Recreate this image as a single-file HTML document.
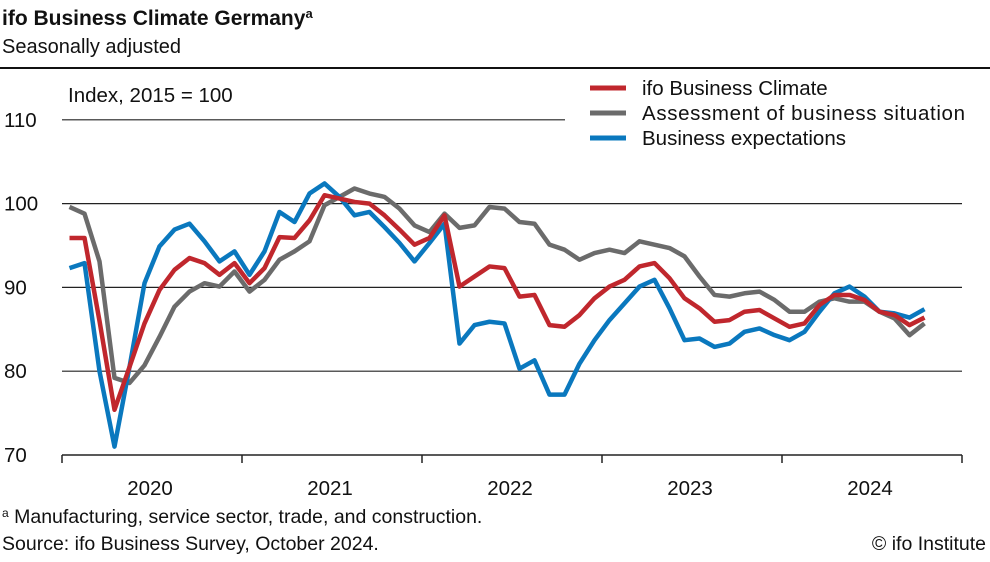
<!DOCTYPE html>
<html><head><meta charset="utf-8"><style>
body{margin:0;background:#fff;font-family:"Liberation Sans",sans-serif;}
svg text{font-family:"Liberation Sans",sans-serif;fill:#111;}
</style></head><body>
<svg id="c" width="990" height="557" viewBox="0 0 990 557">
<text x="2" y="25" font-size="21" font-weight="bold">ifo Business Climate Germany<tspan font-size="13" dy="-7">a</tspan></text>
<text x="2" y="53" font-size="20">Seasonally adjusted</text>
<line x1="0" y1="68" x2="990" y2="68" stroke="#111" stroke-width="2"/>
<text x="68" y="102" font-size="20.5">Index, 2015 = 100</text>
<g id="grid"></g><g id="axis"></g><g id="series"></g>
<g>
<line x1="590" y1="88" x2="626" y2="88" stroke="#c0272d" stroke-width="5"/>
<text x="642" y="95" font-size="20.5">ifo Business Climate</text>
<line x1="590" y1="113" x2="626" y2="113" stroke="#6b6b6b" stroke-width="5"/>
<text x="642" y="120" font-size="20.5" textLength="323">Assessment of business situation</text>
<line x1="590" y1="138" x2="626" y2="138" stroke="#0a78be" stroke-width="5"/>
<text x="642" y="145" font-size="20.5">Business expectations</text>
</g>
<text x="2" y="523" font-size="19.5"><tspan font-size="12" dy="-6">a</tspan><tspan dy="6"> Manufacturing, service sector, trade, and construction.</tspan></text>
<text x="2" y="550" font-size="19.5">Source: ifo Business Survey, October 2024.</text>
<text x="986" y="550" font-size="19.5" text-anchor="end">© ifo Institute</text>
</svg>
<script>
const years=["2020","2021","2022","2023","2024"];
const yTicks=[70,80,90,100,110];
const climate=[95.9,95.9,86,75.4,80.5,85.7,89.7,92.1,93.5,92.9,91.5,92.9,
90.5,92.3,96.0,95.9,98.0,101.0,100.6,100.2,100.0,98.6,96.9,95.1,
95.9,98.6,90.1,91.3,92.5,92.3,88.9,89.1,85.5,85.3,86.7,88.7,
90.1,90.9,92.5,92.9,91.1,88.7,87.5,85.9,86.1,87.1,87.3,86.3,
85.3,85.7,87.9,89.1,89.1,88.5,87.1,86.7,85.5,86.4];
const situation=[99.6,98.8,93.1,79.2,78.6,80.7,84.1,87.7,89.5,90.5,90.1,91.9,
89.5,90.9,93.3,94.3,95.5,99.8,100.8,101.8,101.2,100.8,99.4,97.4,
96.6,98.8,97.1,97.4,99.6,99.4,97.8,97.6,95.1,94.5,93.3,94.1,
94.5,94.1,95.5,95.1,94.7,93.7,91.3,89.1,88.9,89.3,89.5,88.5,
87.1,87.1,88.3,88.7,88.3,88.3,87.1,86.3,84.3,85.7];
const expectations=[92.3,92.9,80,71.0,80.5,90.5,94.9,96.9,97.6,95.5,93.1,94.3,
91.5,94.3,99.0,97.8,101.2,102.4,100.8,98.6,99.0,97.2,95.3,93.1,
95.3,97.6,83.3,85.5,85.9,85.7,80.3,81.3,77.2,77.2,80.9,83.7,
86.1,88.1,90.1,90.9,87.5,83.7,83.9,82.9,83.3,84.7,85.1,84.3,
83.7,84.7,87.1,89.3,90.1,88.9,87.1,86.9,86.4,87.4];
const NS="http://www.w3.org/2000/svg";
const X0=62,X1=962,MW=15;
function x(i){return X0+(i+0.5)*MW;}
function y(v){return 455-(v-70)*8.38;}
function mk(t,a,p){const e=document.createElementNS(NS,t);for(const k in a)e.setAttribute(k,a[k]);p.appendChild(e);return e;}
const grid=document.getElementById('grid'),axis=document.getElementById('axis'),ser=document.getElementById('series');
yTicks.forEach(v=>{
  if(v>70){const l=mk('line',{x1:X0,x2:v===110?565:X1,y1:y(v),y2:y(v),stroke:'#222','stroke-width':1.2},grid);
  
  }
  const t=mk('text',{x:4,y:y(v)+7,'font-size':20.5},axis);t.textContent=v;
  
  
});
const ax=mk('line',{x1:X0,x2:X1,y1:455,y2:455,stroke:'#222','stroke-width':1.5},axis);


for(let k=0;k<=years.length;k++){const tx=X0+k*12*MW;
  const tk=mk('line',{x1:tx,x2:tx,y1:455,y2:463,stroke:'#222','stroke-width':1.5},axis);
  
  }
years.forEach((yr,k)=>{const t=mk('text',{x:X0+(k+0.5)*12*MW-2,y:495,'font-size':20.5,'text-anchor':'middle'},axis);t.textContent=yr;
  
  });
function line(d,c,n){const p=mk('polyline',{points:d.map((v,i)=>x(i)+','+y(v)).join(' '),fill:'none',stroke:c,'stroke-width':4.5,'stroke-linejoin':'round'},ser);
  
  }
line(situation,'#6b6b6b','series-situation');
line(expectations,'#0a78be','series-expectations');
line(climate,'#c0272d','series-climate');
</script>
</body></html>
